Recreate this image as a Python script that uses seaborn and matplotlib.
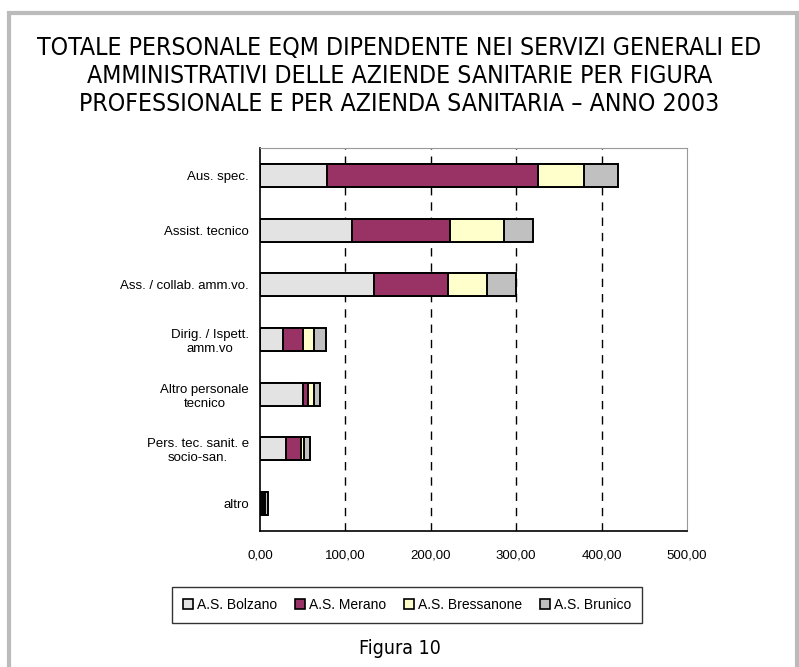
import numpy as np
import pandas as pd
import seaborn as sns
import matplotlib.pyplot as plt
from matplotlib.patches import Patch, Rectangle

sns.set_style('white')
plt.rcParams['font.family'] = ['Liberation Sans', 'DejaVu Sans']
plt.rcParams['text.color'] = 'black'
plt.rcParams['xtick.color'] = 'black'
plt.rcParams['ytick.color'] = 'black'

categories = ['Aus. spec.', 'Assist. tecnico', 'Ass. / collab. amm.vo.',
              'Dirig. / Ispett.\namm.vo', 'Altro personale\ntecnico',
              'Pers. tec. sanit. e\nsocio-san.', 'altro']
aziende = ['A.S. Bolzano', 'A.S. Merano', 'A.S. Bressanone', 'A.S. Brunico']
bolzano = [79.0, 107.5, 134.0, 26.5, 50.0, 30.5, 2.5]
merano = [247.0, 115.0, 86.5, 24.0, 6.5, 17.5, 2.0]
bressanone = [53.0, 63.0, 45.5, 12.5, 6.5, 3.0, 1.0]
brunico = [40.5, 34.5, 33.5, 14.5, 7.5, 8.0, 3.5]
colors = ['#E3E3E3', '#993366', '#FFFFCC', '#C0C0C0']

df = pd.DataFrame({'figura': categories, 'A.S. Bolzano': bolzano, 'A.S. Merano': merano,
                   'A.S. Bressanone': bressanone, 'A.S. Brunico': brunico})
cum = df[aziende].cumsum(axis=1)

fig = plt.figure(figsize=(7.99, 6.67), dpi=100)
ax = fig.add_axes([260/799, 1-531/667, 427/799, 383/667])

# stacked bars: draw the totals first, then each shorter cumulative layer on top
for name, col in reversed(list(zip(aziende, colors))):
    sns.barplot(x=cum[name], y=df['figura'], orient='h', color=col, width=0.42,
                edgecolor='black', linewidth=1.4, saturation=1, ax=ax, order=categories)

ax.set_xlim(0, 500)
ax.set_ylim(6.5, -0.5)
ax.set_xticks([0, 100, 200, 300, 400, 500])
ax.set_xticklabels(['0,00', '100,00', '200,00', '300,00', '400,00', '500,00'], fontsize=9.5)
ax.set_yticks(range(len(categories)))
ax.set_yticklabels(categories, fontsize=9.5, multialignment='center')
ax.set_yticks(np.arange(-0.5, 7, 1), minor=True)
ax.tick_params(axis='y', which='major', length=0, pad=8)
ax.tick_params(axis='y', which='minor', length=4, width=1, color='black', direction='out')
ax.tick_params(axis='x', length=4, width=1, color='black', direction='out', pad=9)
ax.set_xlabel('')
ax.set_ylabel('')
for v in [100, 200, 300, 400]:
    ax.axvline(v, color='black', linestyle=(0, (6, 5)), linewidth=1, zorder=0)
ax.spines['left'].set_color('black')
ax.spines['bottom'].set_color('black')
ax.spines['left'].set_linewidth(1.2)
ax.spines['bottom'].set_linewidth(1.2)
ax.spines['top'].set_color('#999999')
ax.spines['right'].set_color('#999999')

handles = [Patch(facecolor=c, edgecolor='black', linewidth=1.2, label=a) for a, c in zip(aziende, colors)]
leg = fig.legend(handles=handles, ncol=4, loc='center', bbox_to_anchor=(407/799, 1-605/667),
                 frameon=True, fancybox=False, fontsize=10, handlelength=0.7, handleheight=0.7,
                 handletextpad=0.3, columnspacing=1.3, borderpad=0.8)
leg.get_frame().set_edgecolor('black')
leg.get_frame().set_linewidth(1)

title = ('TOTALE PERSONALE EQM DIPENDENTE NEI SERVIZI GENERALI ED\n'
         'AMMINISTRATIVI DELLE AZIENDE SANITARIE PER FIGURA\n'
         'PROFESSIONALE E PER AZIENDA SANITARIA \u2013 ANNO 2003')
fig.text(0.5, 1-76/667, title, ha='center', va='center', fontsize=17.8,
         family='DejaVu Sans', fontstretch='condensed', linespacing=1.21)
fig.text(0.5, 1-648/667, 'Figura 10', ha='center', va='center', fontsize=14,
         family='DejaVu Sans', fontstretch='condensed')

# outer grey frame
fig.patches.append(Rectangle((9/799, -0.05), 788/799, 1.05-13/667, transform=fig.transFigure,
                             fill=False, edgecolor='#BBBBBB', linewidth=3))

fig.savefig('out.png', dpi=100)
